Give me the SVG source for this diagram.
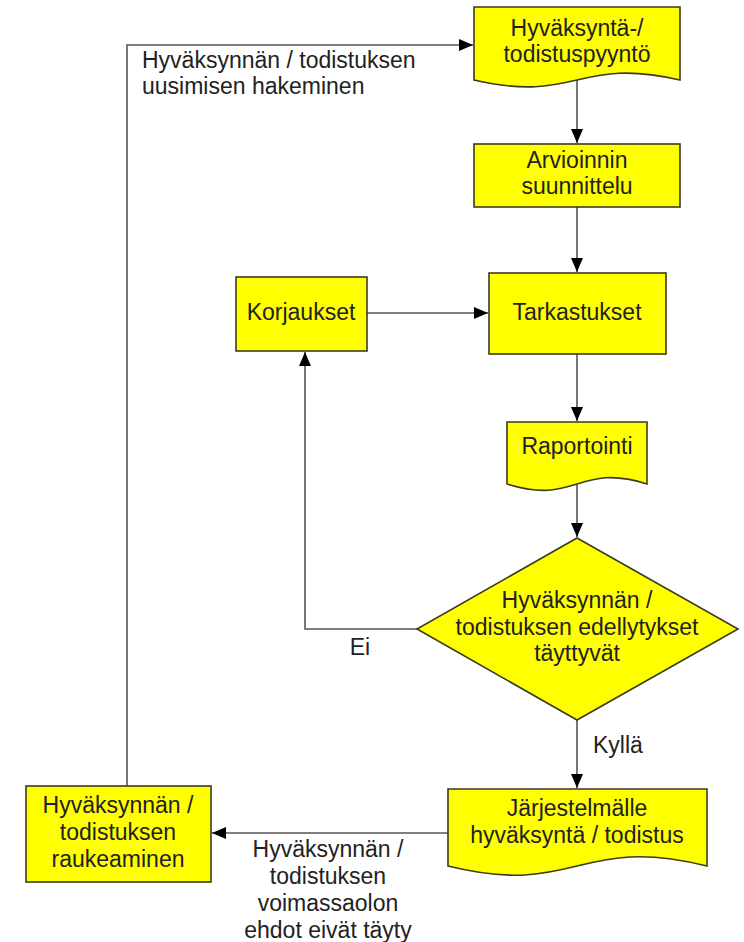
<svg xmlns="http://www.w3.org/2000/svg" width="744" height="942" viewBox="0 0 744 942">
<defs>
<marker id="arr" markerUnits="userSpaceOnUse" markerWidth="14" markerHeight="12" refX="14" refY="6" orient="auto">
<path d="M0,0 L14,6 L0,12 z" fill="#000"/>
</marker>
<style>
.shape{fill:#FFFF00;stroke:#3b3b1e;stroke-width:1.6}
.t{font-family:"Liberation Sans",Arial,sans-serif;font-size:23px;fill:#222;text-anchor:middle}
.lbl{font-family:"Liberation Sans",Arial,sans-serif;font-size:23px;fill:#222}
.c{fill:none;stroke:#555;stroke-width:1.6;marker-end:url(#arr)}
</style>
</defs>
<rect width="744" height="942" fill="#fff"/>
<g id="connectors">
<path class="c" d="M577,80 V143"/>
<path class="c" d="M577,207 V272"/>
<path class="c" d="M367,313 H488"/>
<path class="c" d="M577,354 V421"/>
<path class="c" d="M577,484 V537"/>
<path class="c" d="M417,629 H305 V352"/>
<path class="c" d="M577,720 V788"/>
<path class="c" d="M448,833 H212"/>
<path class="c" d="M127,786 V45 H473"/>
<text class="lbl" x="142" y="68">Hyväksynnän / todistuksen</text>
<text class="lbl" x="142" y="94">uusimisen hakeminen</text>
<text class="t" x="360" y="655">Ei</text>
<text class="lbl" x="593" y="753">Kyllä</text>
<text class="t" x="328" y="857">Hyväksynnän /</text>
<text class="t" x="328" y="884">todistuksen</text>
<text class="t" x="328" y="911">voimassaolon</text>
<text class="t" x="328" y="938">ehdot eivät täyty</text>
</g>
<g id="n1">
<path class="shape" d="M474,7 H680 V80 C577,56 577,104 474,80 Z"/>
<text class="t" x="577" y="36">Hyväksyntä-/</text>
<text class="t" x="577" y="62">todistuspyyntö</text>
</g>
<g id="n2">
<rect class="shape" x="474" y="144" width="206" height="63"/>
<text class="t" x="577" y="168">Arvioinnin</text>
<text class="t" x="577" y="194">suunnittelu</text>
</g>
<g id="n3">
<rect class="shape" x="489" y="273" width="177" height="81"/>
<text class="t" x="577" y="320">Tarkastukset</text>
</g>
<g id="n4">
<rect class="shape" x="236" y="277" width="131" height="74"/>
<text class="t" x="301" y="320">Korjaukset</text>
</g>
<g id="n5">
<path class="shape" d="M507,422 H647 V484 C577,462 577,506 507,484 Z"/>
<text class="t" x="577" y="454">Raportointi</text>
</g>
<g id="n6">
<path class="shape" d="M577,538 L738,629 L577,720 L417,629 Z"/>
<text class="t" x="577" y="608">Hyväksynnän /</text>
<text class="t" x="577" y="635">todistuksen edellytykset</text>
<text class="t" x="577" y="661">täyttyvät</text>
</g>
<g id="n7">
<path class="shape" d="M448,789 H707 V866 C577,834 577,898 448,866 Z"/>
<text class="t" x="577" y="816">Järjestelmälle</text>
<text class="t" x="577" y="843">hyväksyntä / todistus</text>
</g>
<g id="n8">
<rect class="shape" x="26" y="786" width="185" height="96"/>
<text class="t" x="118" y="813">Hyväksynnän /</text>
<text class="t" x="118" y="840">todistuksen</text>
<text class="t" x="118" y="867">raukeaminen</text>
</g>
</svg>
